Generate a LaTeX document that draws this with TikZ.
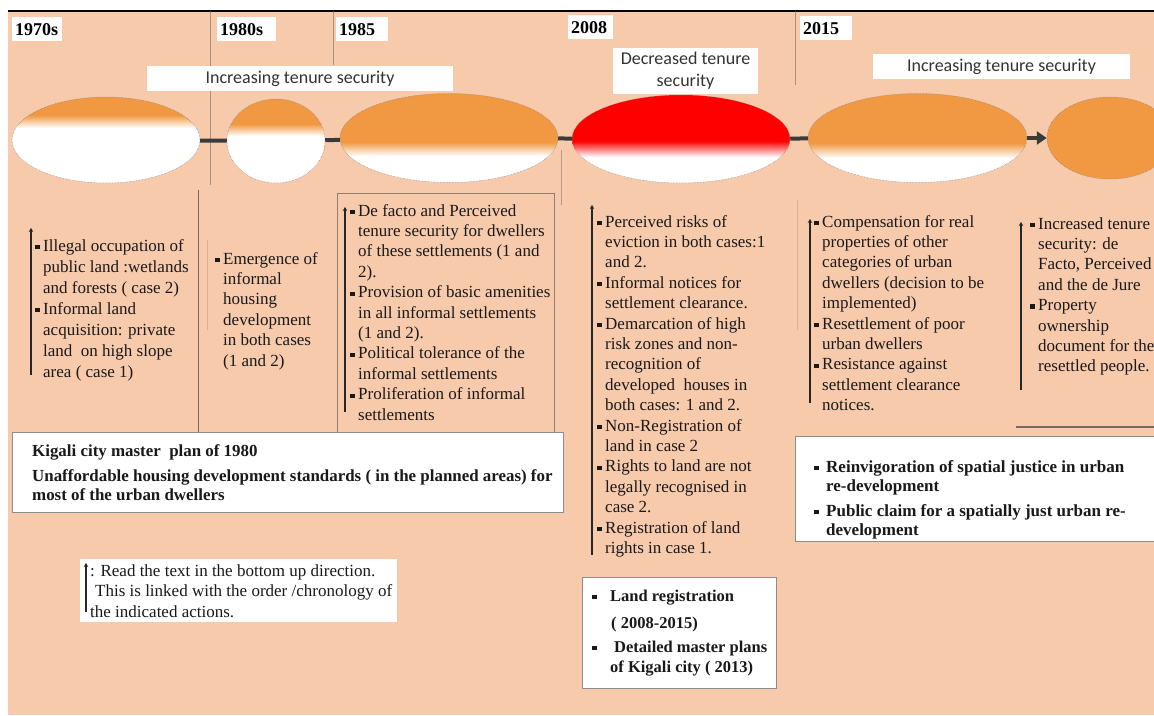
\documentclass[tikz,border=0pt]{standalone}
\usepackage{fontspec}
\setmainfont{Liberation Serif}
\newfontfamily\calfont{Carlito}
\usetikzlibrary{shapes.geometric,arrows.meta}

\definecolor{peach}{RGB}{247,202,172}
\definecolor{tone}{RGB}{240,153,66}
\definecolor{alarm}{RGB}{255,0,0}
\definecolor{linkgray}{RGB}{58,58,58}
\definecolor{guidegray}{RGB}{120,105,95}

% small square bullet and the matching hanging indent
\newcommand\sqb{\makebox[8pt][l]{\raisebox{1.9pt}{\rule{4.3pt}{4.3pt}}}}
\newcommand\ind{\hspace*{8pt}}
\newcommand\sqbb[1]{\makebox[#1][l]{\raisebox{2.4pt}{\rule{4.6pt}{4.6pt}}}}

% a tenure blob: name, cx, cy, rx, ry, colour, fade start, fade end
\newcommand\tenureblob[8]{%
  \begin{scope}
    \clip (#2,#3) ellipse ({#4} and {#5});
    \fill[#6] (#2-#4,#3-#5-1) rectangle (#2+#4,#7);
    \shade[top color=#6,bottom color=white] (#2-#4,#7) rectangle (#2+#4,#8);
    \fill[white] (#2-#4,#8) rectangle (#2+#4,#3+#5+1);
  \end{scope}
  \node[blobrim, minimum width={2*#4}, minimum height={2*#5}] (#1) at (#2,#3) {};
}

\tikzset{
  blobrim/.style={ellipse, inner sep=0pt, draw=black!50, densely dotted, line width=0.5pt},
  link/.style={draw=linkgray, line width=4pt},
  yearbox/.style={fill=white, anchor=north west, inner xsep=3pt, inner ysep=0pt,
    minimum height=24pt, text width=#1, align=left,
    font=\bfseries\fontsize{18}{20}\selectfont},
  headbox/.style={fill=white, inner sep=0pt, align=center, text=black!80,
    font=\calfont\fontsize{18}{22}\selectfont},
  notes/.style={anchor=north west, inner sep=0pt, align=left, text=black!90,
    font=\fontsize{17}{20.4}\selectfont},
  panel/.style={fill=white, draw=black!45, line width=0.8pt},
  upmark/.style={draw=black!85, line width=1.6pt, -{Stealth[length=4pt,width=4.5pt]}},
  guide/.style={draw=guidegray, line width=0.8pt},
  faint/.style={draw=guidegray, line width=1pt, opacity=0.25},
}

\begin{document}
\begin{tikzpicture}[x=1pt,y=-1pt]
\useasboundingbox (0,0) rectangle (1154,715);
\clip (0,0) rectangle (1154,715);
\fill[white] (0,0) rectangle (1154,715);
\fill[peach] (8,11) rectangle (1154,715);
\draw[line width=1.5pt] (8,11) -- (1154,11);

% period dividers
\draw[guide, opacity=0.6] (210,11) -- (210,185);
\draw[guide, opacity=0.6] (333,11) -- (333,65);
\draw[guide, opacity=0.6] (795,11) -- (795,85);
\draw[guide, opacity=0.5] (561,150) -- (561,205);
\draw[guide] (198,190) -- (198,432);
\draw[faint] (207,240) -- (207,330);
\draw[faint] (797,200) -- (797,330);
\draw[guide, opacity=0.8] (337,432) -- (337,193) -- (554,193) -- (554,432);
\draw[guide, line width=1.2pt] (1016,427) -- (1154,427);

% years
\node[yearbox=44pt] (y1970) at (12,17) {1970s};
\node[yearbox=53pt] (y1980) at (217,17) {1980s};
\node[yearbox=46pt] (y1985) at (336,17) {1985};
\node[yearbox=39pt] (y2008) at (568,15) {2008};
\node[yearbox=46pt] (y2015) at (800,16) {2015};

% tenure headings
\node[headbox, minimum width=306pt, minimum height=25pt] (h1) at (300,78.5) {Increasing tenure security};
\node[headbox, minimum width=145pt, minimum height=46pt] (h2) at (685.5,71) {Decreased tenure\\security};
\node[headbox, minimum width=257pt, minimum height=25pt] (h3) at (1001.5,66.5) {Increasing tenure security};

% tenure blobs along the timeline
\tenureblob{e1}{106}{140}{94}{43}{tone}{115}{128}
\tenureblob{e2}{276}{141}{49}{42}{tone}{124}{136}
\tenureblob{e3}{449}{138}{109}{44.5}{tone}{142}{156}
\tenureblob{e4}{681}{139}{109}{44}{alarm}{141}{157}
\tenureblob{e5}{917.5}{138}{109.5}{44.5}{tone}{143}{158}
\tenureblob{e6}{1110}{138}{63}{41}{tone}{200}{201}

\draw[link] (e1) -- (e2);
\draw[link] (e2) -- (e3);
\draw[link] (e3) -- (e4);
\draw[link] (e4) -- (e5);
\draw[link, -{Triangle[length=10pt,width=13pt]}] (e5) -- (e6);

% actions per period
\node[notes, font=\fontsize{17}{21}\selectfont] (b1) at (35,239) {%
\sqb Illegal occupation of\\\ind public land :wetlands\\\ind and forests ( case 2)\\%
\sqb Informal land\\\ind acquisition: private\\\ind land~ on high slope\\\ind area ( case 1)};

\node[notes] (b2) at (215,252) {%
\sqb Emergence of\\\ind informal\\\ind housing\\\ind development\\\ind in both cases\\\ind (1 and 2)};

\node[notes] (b3) at (350,204) {%
\sqb De facto and Perceived\\\ind tenure security for dwellers\\\ind of these settlements (1 and\\\ind 2).\\%
\sqb Provision of basic amenities\\\ind in all informal settlements\\\ind (1 and 2).\\%
\sqb Political tolerance of the\\\ind informal settlements\\%
\sqb Proliferation of informal\\\ind settlements};

\node[notes] (b4) at (597,215) {%
\sqb Perceived risks of\\\ind eviction in both cases:1\\\ind and 2.\\%
\sqb Informal notices for\\\ind settlement clearance.\\%
\sqb Demarcation of high\\\ind risk zones and non-\\\ind recognition of\\\ind developed~ houses in\\\ind both cases: 1 and 2.\\%
\sqb Non-Registration of\\\ind land in case 2\\%
\sqb Rights to land are not\\\ind legally recognised in\\\ind case 2.\\%
\sqb Registration of land\\\ind rights in case 1.};

\node[notes] (b5) at (814,215) {%
\sqb Compensation for real\\\ind properties of other\\\ind categories of urban\\\ind dwellers (decision to be\\\ind implemented)\\%
\sqb Resettlement of poor\\\ind urban dwellers\\%
\sqb Resistance against\\\ind settlement clearance\\\ind notices.};

\node[notes] (b6) at (1030,217) {%
\sqb Increased tenure\\\ind security: de\\\ind Facto, Perceived\\\ind and the de Jure\\%
\sqb Property\\\ind ownership\\\ind document for the\\\ind resettled people.};

% bottom-up reading marks
\draw[upmark] (31,375) -- (31,228);
\draw[upmark] (345,412) -- (345,207);
\draw[upmark] (592,555) -- (592,205);
\draw[upmark] (810,403) -- (810,219);
\draw[upmark] (1021,390) -- (1021,222);

% planning frameworks
\node[panel, anchor=north west, minimum width=551pt, minimum height=80pt] (plan) at (12,432) {};
\node[notes, font=\bfseries\fontsize{16.9}{18.5}\selectfont] (plantext) at (32,444.5)
  {Kigali city master~ plan of 1980\\[6.5pt]Unaffordable housing development standards ( in the planned areas) for\\most of the urban dwellers};

\node[panel, anchor=north west, minimum width=194pt, minimum height=111pt] (reg) at (582,577) {};
\node[notes, font=\bfseries\fontsize{16.5}{20}\selectfont] (regtext) at (592,590) {%
\sqbb{18pt}Land registration\\[7pt]\hspace*{19pt}( 2008-2015)\\[4pt]%
\sqbb{22pt}Detailed master plans\\\hspace*{18pt}of Kigali city ( 2013)};

\node[panel, anchor=north west, minimum width=370pt, minimum height=105pt] (claim) at (795,436) {};
\node[notes, font=\bfseries\fontsize{17}{19}\selectfont] (claimtext) at (814,460.5) {%
\sqbb{12pt}Reinvigoration of spatial justice in urban\\\hspace*{12pt}re-development\\[6pt]%
\sqbb{12pt}Public claim for a spatially just urban re-\\\hspace*{12pt}development};

% reading key
\node[fill=white, anchor=north west, inner sep=0pt, minimum width=317pt, minimum height=63pt] (key) at (80,559) {};
\node[notes, font=\fontsize{17}{20.5}\selectfont] (keytext) at (90,564) {%
: Read the text in the bottom up direction.\\\hspace*{5pt}This is linked with the order /chronology of\\the indicated actions.};
\draw[upmark] ([xshift=6pt,yshift=10pt]key.south west) -- ([xshift=6pt,yshift=-4pt]key.north west);
\end{tikzpicture}
\end{document}
